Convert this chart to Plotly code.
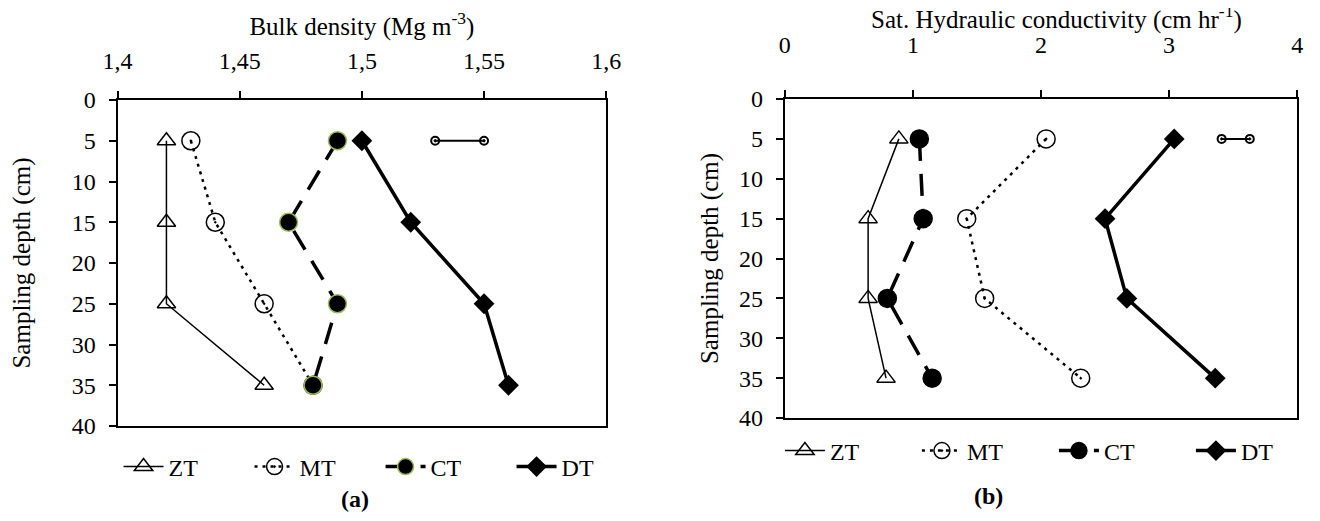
import plotly.graph_objects as go

# ---------------- data ----------------
depth = [5, 15, 25, 35]
series_names = ["ZT", "MT", "CT", "DT"]

# (a) Bulk density (Mg m-3)
bd_zt = [1.42, 1.42, 1.42, 1.46]
bd_mt = [1.43, 1.44, 1.46, 1.48]
bd_ct = [1.49, 1.47, 1.49, 1.48]
bd_dt = [1.50, 1.52, 1.55, 1.56]
bd_stray_x = [1.53, 1.55]
bd_stray_y = [5, 5]

# (b) Saturated hydraulic conductivity (cm hr-1)
ks_zt = [0.89, 0.65, 0.65, 0.79]
ks_mt = [2.04, 1.42, 1.56, 2.31]
ks_ct = [1.05, 1.08, 0.80, 1.15]
ks_dt = [3.04, 2.50, 2.67, 3.36]
ks_stray_x = [3.41, 3.63]
ks_stray_y = [5, 5]

bd_ticks = [1.4, 1.45, 1.5, 1.55, 1.6]
bd_ticktext = ["1,4", "1,45", "1,5", "1,55", "1,6"]
ks_ticks = [0, 1, 2, 3, 4]
depth_ticks = [0, 5, 10, 15, 20, 25, 30, 35, 40]

FONT = "Liberation Serif"
BLACK = "#000000"
GREEN = "#9BBB59"
TICK_SIZE = 24
TITLE_SIZE = 25

fig = go.Figure()

def add_panel(xs, xaxis, yaxis, legend, ct_outline, stray_x, stray_y):
    zt, mt, ct, dt = xs
    fig.add_trace(go.Scatter(
        x=zt, y=depth, name=series_names[0], mode="lines+markers", xaxis=xaxis, yaxis=yaxis, legend=legend,
        line=dict(color=BLACK, width=1.5),
        marker=dict(symbol="triangle-up-open", size=16, color=BLACK, line=dict(color=BLACK, width=1.5))))
    fig.add_trace(go.Scatter(
        x=mt, y=depth, name=series_names[1], mode="lines+markers", xaxis=xaxis, yaxis=yaxis, legend=legend,
        line=dict(color=BLACK, width=2.5, dash="3px,5px"),
        marker=dict(symbol="circle-open-dot", size=18, color=BLACK, line=dict(color=BLACK, width=1.5))))
    fig.add_trace(go.Scatter(
        x=ct, y=depth, name=series_names[2], mode="lines+markers", xaxis=xaxis, yaxis=yaxis, legend=legend,
        line=dict(color=BLACK, width=3.5, dash="22px,13px"),
        marker=dict(symbol="circle", size=18, color=BLACK, line=dict(color=ct_outline, width=1.5))))
    fig.add_trace(go.Scatter(
        x=dt, y=depth, name=series_names[3], mode="lines+markers", xaxis=xaxis, yaxis=yaxis, legend=legend,
        line=dict(color=BLACK, width=3.5),
        marker=dict(symbol="diamond", size=16, color=BLACK)))
    fig.add_trace(go.Scatter(
        x=stray_x, y=stray_y, mode="lines+markers", xaxis=xaxis, yaxis=yaxis, showlegend=False,
        hoverinfo="skip",
        line=dict(color=BLACK, width=2),
        marker=dict(symbol="circle-open-dot", size=8, color=BLACK, line=dict(color=BLACK, width=2))))

add_panel([bd_zt, bd_mt, bd_ct, bd_dt], "x", "y", "legend", GREEN, bd_stray_x, bd_stray_y)
add_panel([ks_zt, ks_mt, ks_ct, ks_dt], "x2", "y2", "legend2", BLACK, ks_stray_x, ks_stray_y)

W, H = 1320, 521
# plot areas in pixels
L1, R1, T1, B1 = 111, 606, 92, 418
L2, R2, T2, B2 = 787, 1306, 91, 410

tickfont = dict(family=FONT, size=TICK_SIZE, color=BLACK)
titlefont = dict(family=FONT, size=TITLE_SIZE, color=BLACK)
axis_common = dict(showgrid=False, zeroline=False, showline=True, linecolor=BLACK, linewidth=2,
                   ticks="outside", ticklen=7, tickwidth=2, tickcolor=BLACK, mirror=True,
                   tickfont=tickfont, automargin=False)

fig.update_layout(
    width=W, height=H,
    margin=dict(l=0, r=0, t=0, b=0),
    paper_bgcolor="white", plot_bgcolor="white",
    separators=", ",
    font=dict(family=FONT, size=TICK_SIZE, color=BLACK),
    xaxis=dict(domain=[L1 / W, R1 / W], side="top", range=[1.4, 1.6], tickvals=bd_ticks,
               ticktext=bd_ticktext, anchor="y", ticklabelstandoff=12,
               title=dict(text="Bulk density (Mg m<sup>-3</sup>)", standoff=12, font=titlefont),
               **axis_common),
    yaxis=dict(domain=[1 - B1 / H, 1 - T1 / H], range=[40, 0], tickvals=depth_ticks, anchor="x",
               ticklabelstandoff=8,
               title=dict(text="Sampling depth (cm)", standoff=36, font=titlefont),
               **axis_common),
    xaxis2=dict(domain=[L2 / W, R2 / W], side="top", range=[0, 4], tickvals=ks_ticks, anchor="y2",
                ticklabelstandoff=27,
                **axis_common),
    yaxis2=dict(domain=[1 - B2 / H, 1 - T2 / H], range=[40, 0], tickvals=depth_ticks, anchor="x2",
                ticklabelstandoff=8,
                title=dict(text="Sampling depth (cm)", standoff=13, font=titlefont),
                **axis_common),
    legend=dict(orientation="h", x=112 / W, xanchor="left", y=1 - 459 / H, yanchor="middle",
                font=dict(family=FONT, size=TICK_SIZE, color=BLACK), bgcolor="rgba(0,0,0,0)",
                entrywidth=76, entrywidthmode="pixels", itemwidth=40),
    legend2=dict(orientation="h", x=782 / W, xanchor="left", y=1 - 443 / H, yanchor="middle",
                 font=dict(family=FONT, size=TICK_SIZE, color=BLACK), bgcolor="rgba(0,0,0,0)",
                 entrywidth=82, entrywidthmode="pixels", itemwidth=40),
    annotations=[
        dict(text="Sat. Hydraulic conductivity (cm hr<sup>-1</sup>)", x=1062 / W, y=1 - 17 / H,
             xref="paper", yref="paper", xanchor="center", yanchor="middle", yshift=8,
             showarrow=False, font=titlefont),
        dict(text="<b>(a)</b>", x=335 / W, y=1 - 506 / H, xref="paper", yref="paper",
             showarrow=False, font=dict(family=FONT, size=24, color=BLACK)),
        dict(text="<b>(b)</b>", x=1010 / W, y=1 - 503 / H, xref="paper", yref="paper",
             showarrow=False, font=dict(family=FONT, size=24, color=BLACK)),
    ],
)

fig.write_html("out.html")
